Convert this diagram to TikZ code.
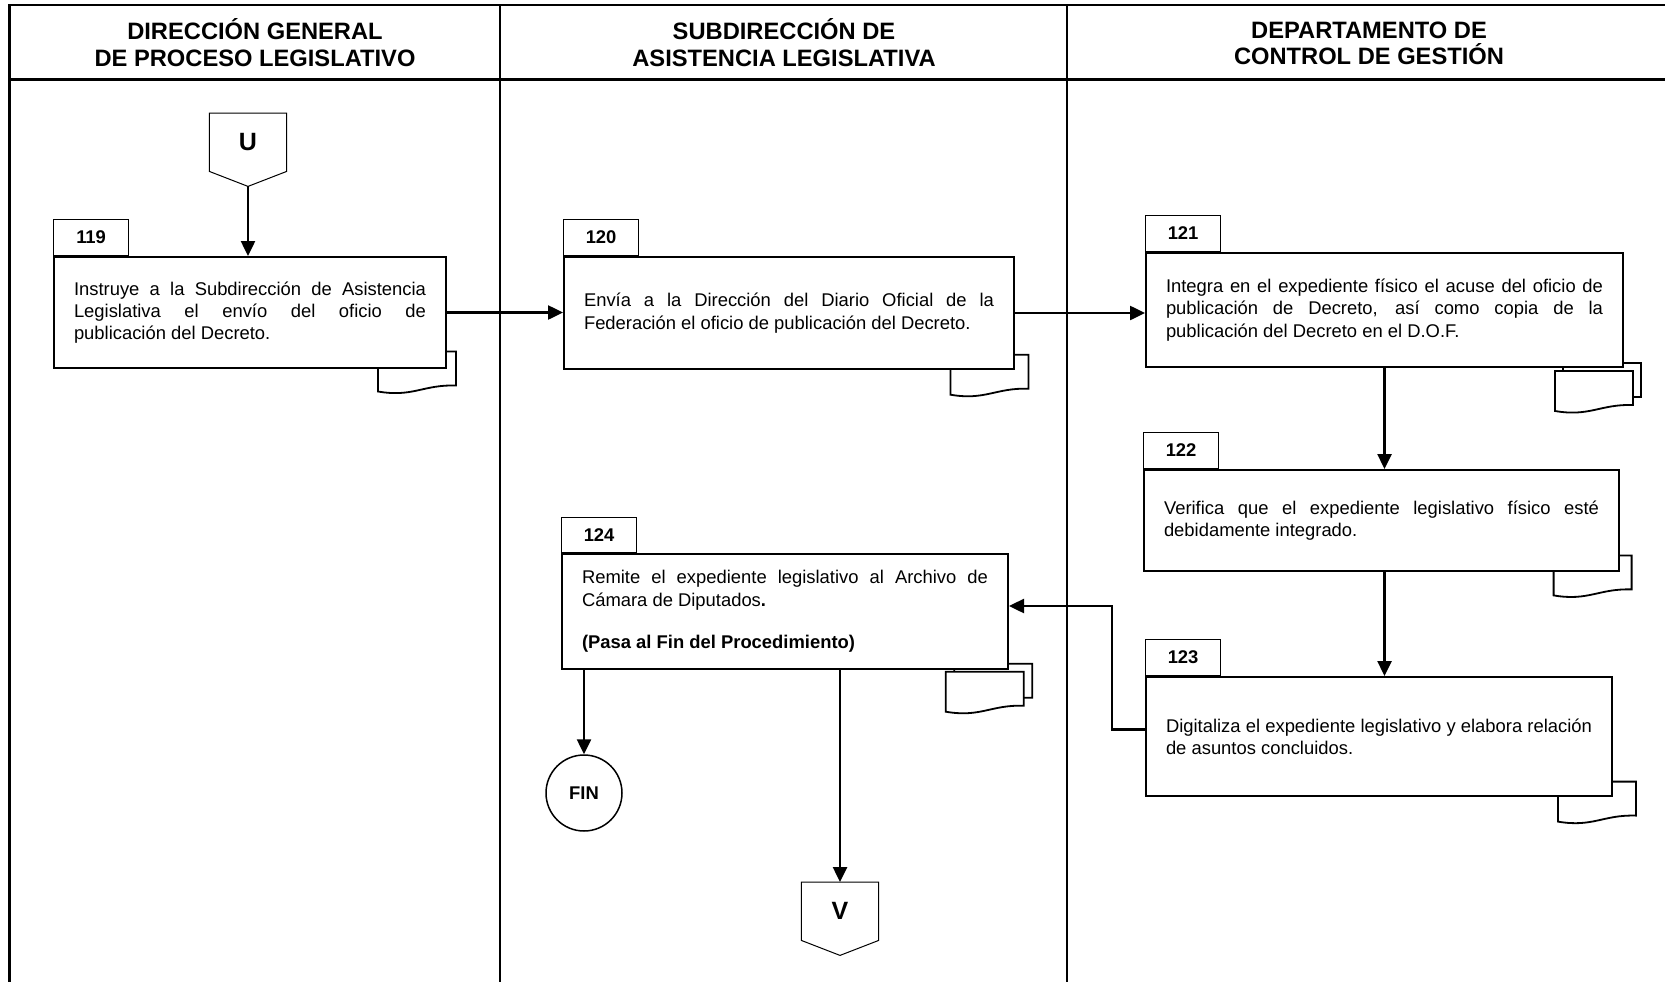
\documentclass[tikz,border=0pt]{standalone}
\usepackage{fontspec}
\setmainfont{Liberation Sans}
\usetikzlibrary{arrows.meta}
\hyphenpenalty=10000
\exhyphenpenalty=10000
\tolerance=10000
\begin{document}
\begin{tikzpicture}[x=1pt,y=-1pt,
  lane/.style={line width=2.4pt},
  box/.style={draw, line width=2pt, fill=white, anchor=north west, inner xsep=20pt, inner ysep=0pt,
    align=justify, font=\fontsize{18.4}{22.3}\selectfont},
  tabbox/.style={draw, line width=1.2pt, fill=white, anchor=south west, minimum width=75pt,
    minimum height=36pt, inner sep=0pt, font=\fontsize{18.4}{22}\selectfont\bfseries},
  flow/.style={line width=2.5pt, -{Triangle[length=15pt,width=14pt]}},
  doc/.style={line width=1.8pt, fill=white},
  head/.style={align=center, font=\fontsize{23.7}{26.5}\selectfont\bfseries},
  offpage/.style={minimum width=77pt, minimum height=58pt, inner sep=0pt, anchor=north,
    font=\fontsize{25}{25}\selectfont\bfseries},
  offline/.style={line width=1pt},
  endpoint/.style={circle, draw, line width=1.5pt, minimum size=76pt, inner sep=0pt,
    font=\fontsize{18.4}{22}\selectfont\bfseries},
  docpic/.pic={\draw[doc] (0,0) -- (78,0) -- (78,34) .. controls (45,33) and (35,46) .. (0,40) -- cycle;}
]
\useasboundingbox (0,0) rectangle (1665,982);

% swimlane frame
\draw[lane] (1665,5.3) -- (9.6,5.3) -- (9.6,982);
\draw[lane] (9.6,79.6) -- (1665,79.6);
\draw[lane] (500.2,5.3) -- (500.2,982);
\draw[lane] (1067.2,5.3) -- (1067.2,982);

\node[head] (h1) at (255,42.5) {DIRECCIÓN GENERAL\\DE PROCESO LEGISLATIVO};
\node[head] (h2) at (784,42.5) {SUBDIRECCIÓN DE\\ASISTENCIA LEGISLATIVA};
\node[head] (h3) at (1369,43.5) {DEPARTAMENTO DE\\CONTROL DE GESTIÓN};

% documents behind the activity boxes
\pic at (378,351.5) {docpic};
\pic at (950.4,354.7) {docpic};
\pic at (1563,363) {docpic};
\pic at (1555,371) {docpic};
\pic at (1553.6,555.4) {docpic};
\pic at (1557.9,781.6) {docpic};
\pic at (954.3,663.7) {docpic};
\pic at (945.7,671.7) {docpic};

% off-page connectors
\node[offpage] (U) at (248,113) {U};
\draw[offline] (U.north west) -- (U.north east) -- (U.south east) -- ([yshift=-15pt]U.south) -- (U.south west) -- cycle;
\coordinate (Utip) at ([yshift=-15pt]U.south);

\node[offpage] (V) at (840,882) {V};
\draw[offline] (V.north west) -- (V.north east) -- (V.south east) -- ([yshift=-15pt]V.south) -- (V.south west) -- cycle;

% activities
\node[box, minimum width=392pt, minimum height=111pt, text width=352pt] (b119) at (53,256)
  {Instruye a la Subdirección de Asistencia\linebreak Legislativa el envío del oficio de\linebreak publicación del Decreto.};
\node[tabbox] (t119) at (b119.north west) {119};

\node[box, minimum width=450pt, minimum height=112pt, text width=410pt] (b120) at (563,256)
  {Envía a la Dirección del Diario Oficial de la\linebreak Federación el oficio de publicación del Decreto.};
\node[tabbox] (t120) at (b120.north west) {120};

\node[box, minimum width=477pt, minimum height=114pt, text width=437pt] (b121) at (1145,252)
  {Integra en el expediente físico el acuse del oficio de\linebreak publicación de Decreto, así como copia de la\linebreak publicación del Decreto en el D.O.F.};
\node[tabbox] (t121) at (b121.north west) {121};

\node[box, minimum width=475pt, minimum height=101pt, text width=435pt] (b122) at (1143,469)
  {Verifica que el expediente legislativo físico esté\linebreak debidamente integrado.};
\node[tabbox] (t122) at (b122.north west) {122};

\node[box, minimum width=466pt, minimum height=119pt, text width=426pt] (b123) at (1145,676)
  {Digitaliza el expediente legislativo y elabora relación\linebreak de asuntos concluidos.};
\node[tabbox] (t123) at (b123.north west) {123};

\node[box, minimum width=446pt, minimum height=115pt, text width=406pt] (b124) at (561,553)
  {Remite el expediente legislativo al Archivo de\linebreak Cámara de Diputados\textbf{.}\par\vspace{20pt}\textbf{(Pasa al Fin del Procedimiento)}};
\node[tabbox, minimum height=35pt] (t124) at (b124.north west) {124};

\node[endpoint] (fin) at (584,793) {FIN};

% connectors
\draw[flow] (Utip) -- (Utip |- b119.north);
\draw[flow] (b119.east) -- (b119.east -| b120.west);
\draw[flow] (b120.east) -- (b120.east -| b121.west);
\draw[flow] (b121.south) -- (b121.south |- b122.north);
\draw[flow] (b121.south |- b122.south) -- (b121.south |- b123.north);
\coordinate (bend) at (1112,606);
\draw[flow] ([yshift=7pt]b123.west) -| (bend) -- (bend -| b124.east);
\draw[flow] (b124.south -| fin.north) -- (fin.north);
\draw[flow] (b124.south -| V.north) -- (V.north);
\end{tikzpicture}
\end{document}
